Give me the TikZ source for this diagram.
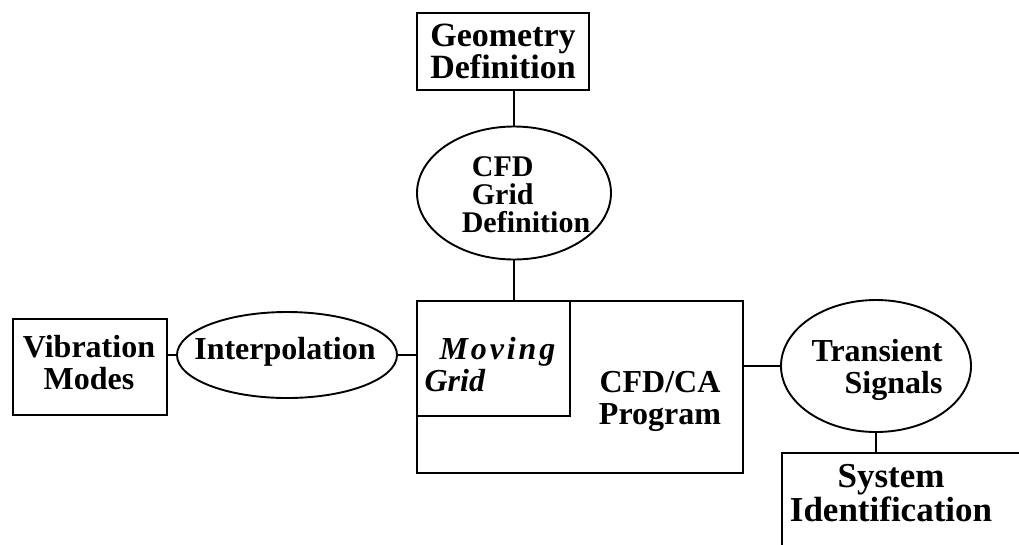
\documentclass[tikz,border=0pt]{standalone}
\usepackage{fontspec}
\setmainfont{Liberation Serif}
\usetikzlibrary{shapes.geometric}
\tikzset{
  box/.style={draw, rectangle, inner sep=0pt},
  oval/.style={draw, ellipse, inner sep=0pt},
  txt/.style={align=center, inner sep=0pt, font=\fontsize{32}{32}\selectfont\bfseries},
}

\begin{document}
\begin{tikzpicture}[x=1pt, y=-1pt, line width=1.9pt]
  \clip (0, 0) rectangle (1019, 544);

  \node[box, txt, minimum width=172pt, minimum height=77pt, font=\fontsize{34}{32}\selectfont\bfseries] (geom) at (503, 51.5) {Geometry\\Definition};

  \node[oval, minimum width=194pt, minimum height=133pt] (grid) at (514, 193) {};
  \node[txt, align=left, font=\fontsize{30}{28}\selectfont\bfseries] (gridtext) at (526, 194.5) {\hspace*{10pt}CFD\\\hspace*{10pt}Grid\\Definition};

  \node[box, minimum width=326pt, minimum height=172pt] (prog) at (580, 387) {};
  \node[box, anchor=north west, minimum width=153pt, minimum height=115pt] (moving) at (prog.north west) {};
  \node[txt, align=left, font=\fontsize{32}{32}\selectfont\bfseries\itshape] (movingtext) at (490, 365) {\hspace*{15pt}{\addfontfeature{LetterSpace=9}Moving}\\Grid};
  \node[txt] (progtext) at (660, 401) {CFD/CA\\Program};

  \node[box, minimum width=154pt, minimum height=96pt] (vib) at (90, 367) {};
  \node[txt] (vibtext) at (89, 363) {Vibration\\Modes};
  \node[oval, minimum width=220pt, minimum height=86pt] (interp) at (287, 355) {};
  \node[txt] (interptext) at (285, 352) {Interpolation};

  \node[oval, minimum width=190pt, minimum height=132pt] (trans) at (876, 366) {};
  \node[txt, align=right] (transtext) at (877, 370) {Transient\\Signals};
  \node[box, anchor=north west, minimum width=300pt, minimum height=150pt] (sysid) at (781, 452) {};
  \node[txt, font=\fontsize{35}{32}\selectfont\bfseries] (sysidtext) at (891, 493) {System\\Identification};

  \draw (grid.north) -- (grid.north |- geom.south);
  \draw (grid.south) -- (grid.south |- prog.north);
  \draw (interp.west) -- (interp.west -| vib.east);
  \draw (interp.east) -- (interp.east -| prog.west);
  \draw (trans.west) -- (trans.west -| prog.east);
  \draw (trans.south) -- (trans.south |- sysid.north);
\end{tikzpicture}
\end{document}
